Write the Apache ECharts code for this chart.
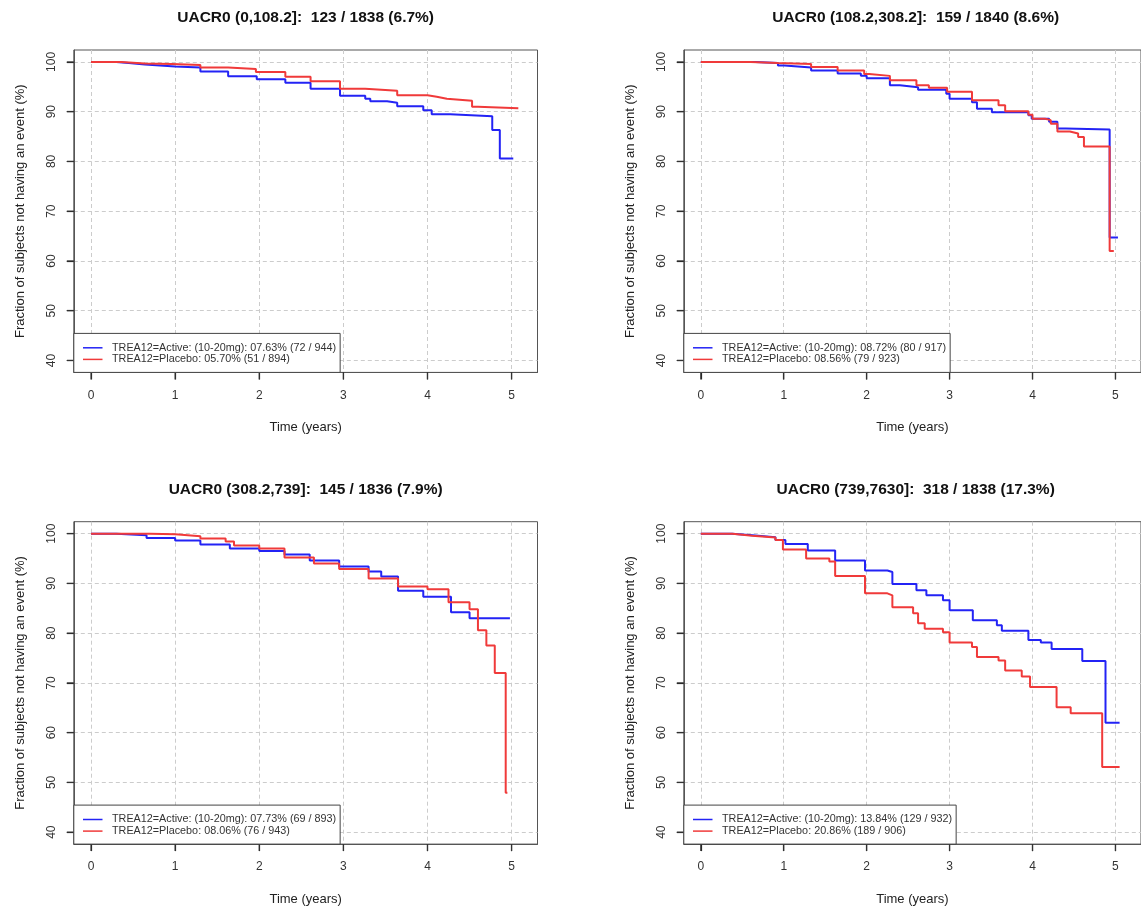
<!DOCTYPE html>
<html>
<head>
<meta charset="utf-8">
<script src="https://cdn.jsdelivr.net/npm/echarts@6/dist/echarts.min.js"></script>
<style>
html,body{margin:0;padding:0;background:#fff;}
#chart{width:1141px;height:909px;}
</style>
</head>
<body>
<div id="chart"></div>
<script>
// ---- data ----
const panelTitles = [
  'UACR0 (0,108.2]:  123 / 1838 (6.7%)',
  'UACR0 (108.2,308.2]:  159 / 1840 (8.6%)',
  'UACR0 (308.2,739]:  145 / 1836 (7.9%)',
  'UACR0 (739,7630]:  318 / 1838 (17.3%)'
];
const activeNames = [
  'TREA12=Active: (10-20mg): 07.63% (72 / 944)',
  'TREA12=Active: (10-20mg): 08.72% (80 / 917)',
  'TREA12=Active: (10-20mg): 07.73% (69 / 893)',
  'TREA12=Active: (10-20mg): 13.84% (129 / 932)'
];
const placeboNames = [
  'TREA12=Placebo: 05.70% (51 / 894)',
  'TREA12=Placebo: 08.56% (79 / 923)',
  'TREA12=Placebo: 08.06% (76 / 943)',
  'TREA12=Placebo: 20.86% (189 / 906)'
];
const xTicks = [0, 1, 2, 3, 4, 5];
const yTicks = [40, 50, 60, 70, 80, 90, 100];

// [time (years), % without event]
const p1Active = [[0,100],[0.3,99.8],[0.45,99.5],[0.64,99.1],[1.0,98.9],[1.3,98.1],[1.63,97.1],[1.97,96.5],[2.31,95.8],[2.61,94.6],[2.96,93.2],[3.26,92.6],[3.32,92.1],[3.52,91.8],[3.64,91.1],[3.95,90.3],[4.05,89.5],[4.27,89.1],[4.77,86.3],[4.86,80.6],[5.02,80.6]];
const p1Placebo = [[0,100],[0.36,99.7],[0.64,99.6],[0.96,99.4],[1.3,98.9],[1.63,98.6],[1.96,98.0],[2.31,97.0],[2.61,96.1],[2.96,94.6],[3.26,94.2],[3.64,93.3],[4.0,93.0],[4.11,92.6],[4.23,92.2],[4.53,91.0],[4.6,90.7],[5.08,90.7]];
const p2Active = [[0,100],[0.66,99.8],[0.93,99.3],[1.01,98.9],[1.33,98.3],[1.65,97.7],[1.93,97.2],[2.0,96.7],[2.28,95.3],[2.4,94.9],[2.62,94.4],[2.96,93.6],[3.0,92.6],[3.27,91.9],[3.33,90.6],[3.51,89.9],[3.95,89.3],[3.99,88.6],[4.2,88.0],[4.3,86.6],[4.4,86.4],[4.93,64.7],[5.03,64.7]];
const p2Placebo = [[0,100],[0.6,99.8],[0.93,99.6],[1.33,99.0],[1.65,98.3],[1.97,97.6],[2.03,97.2],[2.28,96.3],[2.6,95.3],[2.75,94.8],[2.97,94.0],[3.27,92.3],[3.59,91.3],[3.67,90.1],[3.95,89.4],[4.0,88.6],[4.15,88.3],[4.22,87.6],[4.3,86.0],[4.45,85.6],[4.55,84.9],[4.62,83.0],[4.93,62.0],[4.98,62.0]];
const p3Active = [[0,100],[0.3,99.7],[0.66,99.1],[1.0,98.6],[1.3,97.8],[1.65,97.0],[2.0,96.5],[2.3,95.8],[2.6,94.6],[2.95,93.4],[3.3,92.4],[3.45,91.4],[3.65,88.5],[3.95,87.3],[4.28,84.2],[4.5,83.0],[4.98,83.0]];
const p3Placebo = [[0,100],[0.7,99.9],[1.0,99.5],[1.3,99.0],[1.6,98.4],[1.7,97.6],[2.0,97.0],[2.3,95.2],[2.65,94.0],[2.95,92.9],[3.3,91.0],[3.65,89.4],[4.0,88.8],[4.25,86.2],[4.5,84.8],[4.6,80.6],[4.7,77.5],[4.8,72.0],[4.93,47.9],[4.95,47.9]];
const p4Active = [[0,100],[0.38,99.7],[0.62,99.3],[0.9,98.7],[1.02,97.9],[1.29,96.6],[1.62,94.6],[1.98,92.6],[2.25,92.3],[2.31,89.9],[2.6,88.6],[2.72,87.6],[2.92,86.6],[3.0,84.6],[3.28,82.6],[3.57,81.6],[3.63,80.5],[3.95,78.6],[4.1,78.1],[4.23,76.8],[4.6,74.4],[4.88,62.0],[5.05,62.0]];
const p4Placebo = [[0,100],[0.38,99.6],[0.62,99.2],[0.9,98.7],[0.99,96.8],[1.27,95.0],[1.55,94.4],[1.62,91.5],[1.98,88.0],[2.25,87.6],[2.31,85.2],[2.56,84.0],[2.62,82.0],[2.7,80.9],[2.92,80.2],[3.0,78.1],[3.27,77.2],[3.33,75.2],[3.59,74.5],[3.67,72.5],[3.87,71.3],[3.97,69.2],[4.29,65.1],[4.46,63.9],[4.84,53.1],[5.05,53.1]];

const activeData = [p1Active, p2Active, p3Active, p4Active];
const placeboData = [p1Placebo, p2Placebo, p3Placebo, p4Placebo];

// ---- layout ----
const FONT = '"Liberation Sans", Arial, Helvetica, sans-serif';
const BLUE = '#2323f5';
const RED = '#f03a3a';
const panels = [
  {left: 73.8, top: 50},
  {left: 683.8, top: 50},
  {left: 73.8, top: 521.7},
  {left: 683.8, top: 521.7}
];
const GW = 463.7, GH = 322.4;
const XMIN = -0.205, XMAX = 5.308, YMIN = 37.6, YMAX = 102.4;
const TICK_LEN = 7;

const option = {
  animation: false,
  backgroundColor: '#ffffff',
  title: [], grid: [], xAxis: [], yAxis: [], legend: [], series: []
};

panels.forEach((p, i) => {
  option.title.push({
    text: panelTitles[i],
    left: p.left + GW / 2,
    top: p.top - 40,
    textAlign: 'center',
    padding: 0,
    textStyle: {fontFamily: FONT, fontSize: 15.5, fontWeight: 'bold', color: '#111'}
  });
  option.grid.push({
    left: p.left, top: p.top, width: GW, height: GH,
    show: true, borderColor: '#555', borderWidth: 1
  });
  option.xAxis.push({
    type: 'value', gridIndex: i, min: XMIN, max: XMAX, position: 'bottom',
    name: 'Time (years)', nameLocation: 'middle', nameGap: 49,
    nameTextStyle: {fontFamily: FONT, fontSize: 13, color: '#222'},
    axisLine: {show: true, onZero: false, lineStyle: {color: '#555', width: 1}},
    axisTick: {show: true, length: TICK_LEN, customValues: xTicks, lineStyle: {color: '#222', width: 1.2}},
    axisLabel: {customValues: xTicks, margin: 17, fontFamily: FONT, fontSize: 12, color: '#333'},
    splitLine: {show: true, lineStyle: {color: '#cccccc', type: [4, 3], width: 1}}
  });
  option.yAxis.push({
    type: 'value', gridIndex: i, min: YMIN, max: YMAX, position: 'left',
    name: 'Fraction of subjects not having an event (%)', nameLocation: 'middle', nameGap: 47, nameRotate: 90,
    nameTextStyle: {fontFamily: FONT, fontSize: 13, color: '#222'},
    axisLine: {show: true, onZero: false, lineStyle: {color: '#555', width: 1}},
    axisTick: {show: true, length: TICK_LEN, customValues: yTicks, lineStyle: {color: '#222', width: 1.2}},
    axisLabel: {customValues: yTicks, rotate: 90, margin: 16, fontFamily: FONT, fontSize: 12, color: '#333'},
    splitLine: {show: true, lineStyle: {color: '#cccccc', type: [4, 3], width: 1}}
  });
  option.legend.push({
    left: p.left, top: p.top + GH - 39,
    orient: 'vertical',
    data: [activeNames[i], placeboNames[i]],
    selectedMode: false,
    backgroundColor: '#ffffff',
    borderColor: '#444', borderWidth: 1, borderRadius: 0,
    padding: [8.6, 4, 7.2, 9.2],
    itemGap: 0, itemWidth: 19.5, itemHeight: 1.5, icon: 'rect',
    textStyle: {fontFamily: FONT, fontSize: 10.8, color: '#333', lineHeight: 11.6, padding: [0, 0, 0, 4.5]},
    z: 10
  });
  option.series.push({
    name: activeNames[i], type: 'line', xAxisIndex: i, yAxisIndex: i,
    data: activeData[i], step: 'end', symbol: 'none', showSymbol: false,
    lineStyle: {color: BLUE, width: 2}, itemStyle: {color: BLUE}, z: 3
  });
  option.series.push({
    name: placeboNames[i], type: 'line', xAxisIndex: i, yAxisIndex: i,
    data: placeboData[i], step: 'end', symbol: 'none', showSymbol: false,
    lineStyle: {color: RED, width: 2}, itemStyle: {color: RED}, z: 3
  });
  // outer tick marks, positioned through the axes' own scales
  option.series.push({
    name: 'xticks' + i, type: 'custom', xAxisIndex: i, yAxisIndex: i,
    silent: true, clip: false, z: 6,
    data: xTicks.map(v => [v, YMIN]),
    renderItem: function (params, api) {
      const pt = api.coord([api.value(0), api.value(1)]);
      return {type: 'line', shape: {x1: pt[0], y1: pt[1], x2: pt[0], y2: pt[1] + TICK_LEN},
              style: {stroke: '#333', lineWidth: 1.2}};
    }
  });
  option.series.push({
    name: 'yticks' + i, type: 'custom', xAxisIndex: i, yAxisIndex: i,
    silent: true, clip: false, z: 6,
    data: yTicks.map(v => [XMIN, v]),
    renderItem: function (params, api) {
      const pt = api.coord([api.value(0), api.value(1)]);
      return {type: 'line', shape: {x1: pt[0], y1: pt[1], x2: pt[0] - TICK_LEN, y2: pt[1]},
              style: {stroke: '#333', lineWidth: 1.2}};
    }
  });
});

const chart = echarts.init(document.getElementById('chart'), null, {renderer: 'canvas'});
chart.setOption(option);
</script>
</body>
</html>
